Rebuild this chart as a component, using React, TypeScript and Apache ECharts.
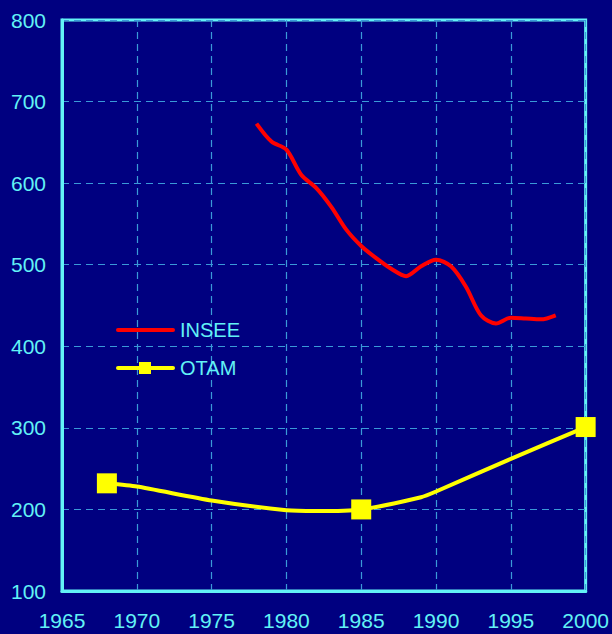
import React, { useEffect, useRef } from "react";
import * as echarts from "echarts";

const xTicks = [1965, 1970, 1975, 1980, 1985, 1990, 1995, 2000];
const yTicks = [100, 200, 300, 400, 500, 600, 700, 800];

const inseeYears = [1978, 1979, 1980, 1981, 1982, 1983, 1984, 1985, 1986, 1987, 1988, 1989, 1990, 1991, 1992, 1993, 1994, 1995, 1996, 1997, 1998];
const inseeValues = [673, 651, 641, 610, 594, 571, 543, 523, 508, 495, 486, 498, 506, 498, 473, 438, 428, 435, 434, 433, 438];

const otamYears = [1968, 1970, 1975, 1980, 1982, 1985, 1989, 1990, 1995, 2000];
const otamValues = [232, 228, 211, 199, 198, 200, 215, 222, 262, 301];
const otamMarked = [true, false, false, false, false, true, false, false, false, true];

const legendNames = ["INSEE", "OTAM"];
const legendColors = ["#ff0000", "#ffff00"];

const BG = "#000080";
const CYAN = "#62f2f6";
const GRIDC = "#3a9ad8";
const FONT = "'Liberation Sans', Arial, sans-serif";

export default function App() {
  const ref = useRef<HTMLDivElement>(null);
  useEffect(() => {
    if (!ref.current) return;
    const chart = echarts.init(ref.current, undefined, { renderer: "svg" });
    const splitLine = { show: true, lineStyle: { color: GRIDC, type: [7, 5] as any, width: 1.2 } };
    const legendY = [330, 368];
    const legendGraphics: any[] = [];
    legendNames.forEach((name, i) => {
      legendGraphics.push({
        type: "line",
        shape: { x1: 118, y1: legendY[i], x2: 173, y2: legendY[i] },
        style: { stroke: legendColors[i], lineWidth: 4, lineCap: "round" },
        z: 10,
      });
      if (name === "OTAM") {
        legendGraphics.push({
          type: "rect",
          shape: { x: 139, y: legendY[i] - 6, width: 12, height: 12 },
          style: { fill: legendColors[i] },
          z: 11,
        });
      }
      legendGraphics.push({
        type: "text",
        x: 180,
        y: legendY[i],
        style: {
          text: name,
          fill: CYAN,
          font: `20px ${FONT}`,
          textVerticalAlign: "middle",
          verticalAlign: "middle",
        },
        z: 10,
      });
    });
    chart.setOption({
      animation: false,
      backgroundColor: BG,
      grid: {
        left: 62,
        right: 26,
        top: 20,
        bottom: 43,
        show: true,
        borderColor: CYAN,
        borderWidth: 3,
        backgroundColor: "transparent",
      },
      xAxis: {
        type: "value",
        min: xTicks[0],
        max: xTicks[xTicks.length - 1],
        interval: 5,
        axisLine: { show: true, lineStyle: { color: CYAN, width: 3 } },
        axisTick: { show: false },
        splitLine,
        axisLabel: {
          color: CYAN,
          fontSize: 21,
          fontFamily: FONT,
          margin: 19,
          showMinLabel: true,
          showMaxLabel: true,
          formatter: (v: number) => String(v),
        },
      },
      yAxis: {
        type: "value",
        min: yTicks[0],
        max: yTicks[yTicks.length - 1],
        interval: 100,
        axisLine: { show: true, lineStyle: { color: CYAN, width: 3 } },
        axisTick: { show: false },
        splitLine,
        axisLabel: { color: CYAN, fontSize: 21, fontFamily: FONT, margin: 16, formatter: (v: number) => String(v) },
      },
      graphic: legendGraphics,
      series: [
        {
          name: "INSEE",
          type: "line",
          data: inseeYears.map((y, i) => [y, inseeValues[i]]),
          symbol: "none",
          smooth: 0.3,
          lineStyle: { color: "#ff0000", width: 4 },
          itemStyle: { color: "#ff0000" },
        },
        {
          name: "OTAM",
          type: "line",
          data: otamYears.map((y, i) => ({
            value: [y, otamValues[i]],
            symbol: otamMarked[i] ? "rect" : "none",
          })),
          symbol: "rect",
          symbolSize: 20,
          showAllSymbol: true,
          smooth: 0.2,
          lineStyle: { color: "#ffff00", width: 4 },
          itemStyle: { color: "#ffff00" },
        },
      ],
    });
    return () => chart.dispose();
  }, []);
  return (
    <div
      ref={ref}
      style={{ position: "fixed", left: 0, top: 0, width: 612, height: 634 }}
    />
  );
}
